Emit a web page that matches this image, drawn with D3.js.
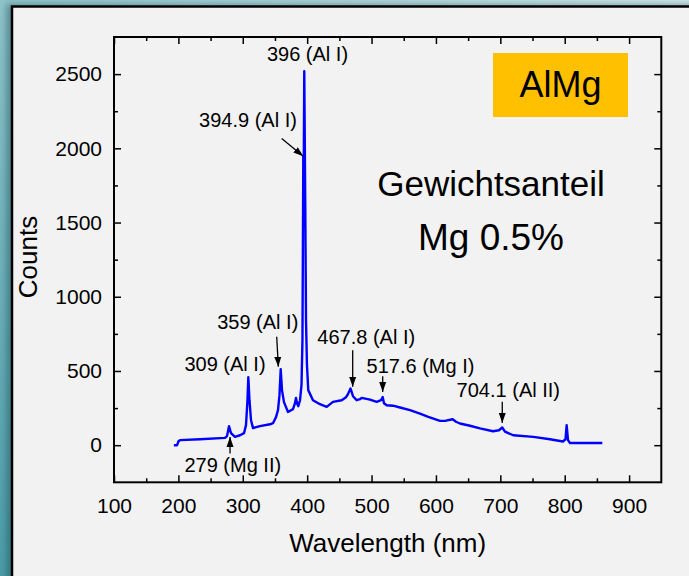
<!DOCTYPE html>
<html>
<head>
<meta charset="utf-8">
<script src="https://cdn.jsdelivr.net/npm/d3@7"></script>
<style>
  body { margin: 0; padding: 0; overflow: hidden; }
  svg { display: block; font-family: Arial, "Liberation Sans", sans-serif; }
</style>
</head>
<body>
<svg width="689" height="576"></svg>
<script>
// spectrum (wavelength in nm, counts)
var wavelength = [193, 198, 200.2, 202.5, 233.6, 272.4, 275.5, 278.6, 281.7, 287.9, 295.7, 301.9, 305,
  307.3, 308.6, 310.4, 312.8, 315.9, 326.7, 342.3, 346.9, 351.6, 354.7, 357, 358.9, 360.9, 364, 370.2,
  378, 381.1, 382.7, 384.2, 386.2, 388.9, 391.2, 392.7, 394, 394.8, 395.5, 397, 398.2, 399.7, 401.7,
  409, 419.9, 430.3, 440.1, 453.6, 460.3, 463.4, 467.3, 471.2, 476.9, 482, 484.7, 497.6, 508, 514.7,
  517.3, 519.3, 523.5, 533.3, 544.2, 559.7, 575.2, 588.1, 606.3, 615.6, 626, 631.1, 637.3, 652.9,
  668.4, 688.6, 697.9, 703, 707.2, 720.1, 751.2, 777.1, 797.3, 801.2, 803, 805.1, 808.2, 831.5, 858.4];
var counts = [0, 0, 27, 34, 40, 49, 61, 128, 81, 56, 67, 81, 135,
  303, 458, 303, 168, 115, 128, 141, 148, 189, 236, 337, 512, 371, 290, 224,
  243, 283, 319, 283, 263, 303, 404, 707, 1947, 1960, 2520, 1650, 842, 539, 371,
  303, 276, 258, 292, 303, 323, 344, 382, 330, 303, 310, 319, 307, 292, 303,
  325, 283, 269, 266, 254, 236, 212, 191, 164, 165, 175, 158, 146, 131,
  113, 94, 101, 119, 91, 67, 56, 40, 25, 40, 135, 34, 15, 15, 15];

var xTicks = [100, 200, 300, 400, 500, 600, 700, 800, 900];
var xMinor = [150, 250, 350, 450, 550, 650, 750, 850];
var yTicks = [0, 500, 1000, 1500, 2000, 2500];
var yMinor = [250, 750, 1250, 1750, 2250];

// line annotations: label anchor and arrow in data units
var annoText = ["396 (Al I)", "394.9 (Al I)", "359 (Al I)", "309 (Al I)", "279 (Mg II)",
  "467.8 (Al I)", "517.6 (Mg I)", "704.1 (Al II)"];
var annoX = [400.5, 308.1, 323.3, 272.4, 284.5, 491.8, 576, 712.4];
var annoY = [2589, 2144, 780, 500, -180, 680, 483, 325];
var arrowFrom = [null, [360.4, 2066], [352.7, 730], null, [280.2, -56], [470.7, 640], [517.3, 465], [703, 292]];
var arrowTo = [null, [394, 1947], [355.2, 528], null, [280.2, 56], [470.7, 393], [517.3, 359], [703, 150]];

var svg = d3.select("svg");
var defs = svg.append("defs");

var grad = defs.append("linearGradient").attr("id", "bg")
  .attr("x1", "0").attr("y1", "1").attr("x2", "1").attr("y2", "0");
grad.append("stop").attr("offset", "0").attr("stop-color", "#4b9ca8");
grad.append("stop").attr("offset", "0.5").attr("stop-color", "#8fc3ca");
grad.append("stop").attr("offset", "1").attr("stop-color", "#d0e6e9");

defs.append("filter").attr("id", "shadow").attr("x", "-10%").attr("y", "-10%")
  .attr("width", "120%").attr("height", "120%")
  .append("feGaussianBlur").attr("stdDeviation", 3);

defs.append("marker").attr("id", "arrow")
  .attr("viewBox", "0 0 10 10").attr("refX", 10).attr("refY", 5)
  .attr("markerWidth", 10).attr("markerHeight", 10)
  .attr("markerUnits", "userSpaceOnUse").attr("orient", "auto")
  .append("path").attr("d", "M0,1.5 L10,5 L0,8.5 Z").attr("fill", "#000");

// background and panel
svg.append("rect").attr("width", 689).attr("height", 576).attr("fill", "url(#bg)");
svg.append("rect").attr("x", 6).attr("y", 4).attr("width", 720).attr("height", 620)
  .attr("fill", "#1d4f57").attr("opacity", 0.45).attr("filter", "url(#shadow)");
svg.append("rect").attr("x", 12).attr("y", 6.5).attr("width", 700).attr("height", 600)
  .attr("fill", "#f2f2f2").attr("stroke", "#000").attr("stroke-width", 2.5);

var margin = {left: 114, right: 661.3, top: 37, bottom: 482.3};

var x = d3.scaleLinear().domain([100, 950]).range([margin.left, margin.right]);
var y = d3.scaleLinear().domain([-250, 2750]).range([margin.bottom, margin.top]);

function styleAxis(g) {
  g.select(".domain").remove();
  g.selectAll("line").attr("stroke", "#000").attr("stroke-width", 1.5);
  g.selectAll("text").attr("fill", "#000").attr("font-size", 21)
    .attr("font-family", "Arial, 'Liberation Sans', sans-serif");
}

// bottom axis with labels, other three sides mirrored
svg.append("g").attr("transform", "translate(0," + margin.bottom + ")")
  .call(d3.axisBottom(x).tickValues(xTicks).tickSize(-7).tickPadding(16).tickFormat(d3.format("d")))
  .call(styleAxis);
svg.append("g").attr("transform", "translate(0," + margin.bottom + ")")
  .call(d3.axisBottom(x).tickValues(xMinor).tickSize(-4).tickFormat("")).call(styleAxis);
svg.append("g").attr("transform", "translate(0," + margin.top + ")")
  .call(d3.axisTop(x).tickValues(xTicks).tickSize(-7).tickFormat("")).call(styleAxis);
svg.append("g").attr("transform", "translate(0," + margin.top + ")")
  .call(d3.axisTop(x).tickValues(xMinor).tickSize(-4).tickFormat("")).call(styleAxis);

svg.append("g").attr("transform", "translate(" + margin.left + ",0)")
  .call(d3.axisLeft(y).tickValues(yTicks).tickSize(-7).tickPadding(12).tickFormat(d3.format("d")))
  .call(styleAxis);
svg.append("g").attr("transform", "translate(" + margin.left + ",0)")
  .call(d3.axisLeft(y).tickValues(yMinor).tickSize(-4).tickFormat("")).call(styleAxis);
svg.append("g").attr("transform", "translate(" + margin.right + ",0)")
  .call(d3.axisRight(y).tickValues(yTicks).tickSize(-7).tickFormat("")).call(styleAxis);
svg.append("g").attr("transform", "translate(" + margin.right + ",0)")
  .call(d3.axisRight(y).tickValues(yMinor).tickSize(-4).tickFormat("")).call(styleAxis);

// plot frame
svg.append("rect")
  .attr("x", margin.left).attr("y", margin.top)
  .attr("width", margin.right - margin.left).attr("height", margin.bottom - margin.top)
  .attr("fill", "none").attr("stroke", "#000").attr("stroke-width", 2);

// spectrum
var line = d3.line()
  .x(function(d, i) { return x(wavelength[i]); })
  .y(function(d) { return y(d); });

svg.append("path").datum(counts)
  .attr("d", line)
  .attr("fill", "none").attr("stroke", "#0000ff").attr("stroke-width", 2.4)
  .attr("stroke-linejoin", "round");

// annotations
annoText.forEach(function(t, i) {
  svg.append("text").attr("x", x(annoX[i])).attr("y", y(annoY[i]))
    .attr("text-anchor", "middle").attr("font-size", 20).attr("fill", "#000").text(t);
  if (arrowFrom[i]) {
    svg.append("line")
      .attr("x1", x(arrowFrom[i][0])).attr("y1", y(arrowFrom[i][1]))
      .attr("x2", x(arrowTo[i][0])).attr("y2", y(arrowTo[i][1]))
      .attr("stroke", "#000").attr("stroke-width", 1.3)
      .attr("marker-end", "url(#arrow)");
  }
});

// axis titles
svg.append("text").attr("x", (margin.left + margin.right) / 2).attr("y", 552)
  .attr("text-anchor", "middle").attr("font-size", 26).text("Wavelength (nm)");
svg.append("text").attr("transform", "translate(37,257) rotate(-90)")
  .attr("text-anchor", "middle").attr("font-size", 26).text("Counts");

// sample box and composition note
svg.append("rect").attr("x", 493).attr("y", 53).attr("width", 135).attr("height", 64)
  .attr("fill", "#ffc000");
svg.append("text").attr("x", 560.5).attr("y", 97).attr("text-anchor", "middle")
  .attr("font-size", 36).text("AlMg");
svg.append("text").attr("x", 491).attr("y", 196).attr("text-anchor", "middle")
  .attr("font-size", 35).text("Gewichtsanteil");
svg.append("text").attr("x", 491).attr("y", 250).attr("text-anchor", "middle")
  .attr("font-size", 37).text("Mg 0.5%");
</script>
</body>
</html>
